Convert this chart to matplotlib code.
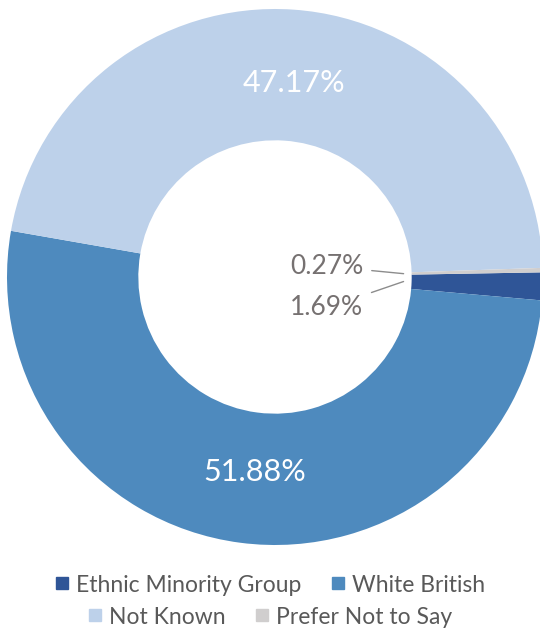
import matplotlib
matplotlib.use("Agg")
import matplotlib.pyplot as plt
from matplotlib.lines import Line2D
import numpy as np

categories = ["Ethnic Minority Group", "White British", "Not Known", "Prefer Not to Say"]
values = [1.69, 51.88, 47.17, 0.27]
labels = ["1.69%", "51.88%", "47.17%", "0.27%"]
colors = ["#2F5597", "#4E8ABE", "#BDD1EA", "#D0CECE"]

plt.rcParams['font.family'] = ['Lato', 'DejaVu Sans']

fig = plt.figure(figsize=(5.4, 6.3), dpi=100)
ax = fig.add_axes([7/540, 85/630, 536/540, 536/630])
ax.axis('off')

wedges, _ = ax.pie(values, colors=colors, startangle=1, counterclock=False,
                   radius=1, wedgeprops=dict(width=0.49, edgecolor='none'))
ax.set_xlim(-1, 1)
ax.set_ylim(-1, 1)
ax.set_aspect('equal')

def mid(w):
    a = np.deg2rad((w.theta1 + w.theta2) / 2)
    return np.cos(a), np.sin(a)

# big labels inside ring
for i in (1, 2):
    c, s = mid(wedges[i])
    ax.text(0.73 * c + 0.02, 0.73 * s - 0.005, labels[i], color='white', fontsize=22,
            ha='center', va='center')

# small labels in hole with leader lines
lab_col = '#767171'
c, s = mid(wedges[3])
ax.annotate(labels[3], xy=(0.48 * c, 0.48 * s), xytext=(0.33, 0.04),
            fontsize=19, color=lab_col, ha='right', va='center',
            arrowprops=dict(arrowstyle='-', color='#8C8C8C', lw=1,
                            shrinkA=4, shrinkB=0))
c, s = mid(wedges[0])
ax.annotate(labels[0], xy=(0.48 * c, 0.48 * s), xytext=(0.33, -0.115),
            fontsize=19, color=lab_col, ha='right', va='center',
            arrowprops=dict(arrowstyle='-', color='#8C8C8C', lw=1,
                            shrinkA=4, shrinkB=0))

def handles(idx):
    return [Line2D([0], [0], marker='s', linestyle='none', markersize=9,
                   markerfacecolor=colors[i], markeredgecolor=colors[i]) for i in idx]

leg_kw = dict(ncol=2, frameon=False, fontsize=16.5, labelcolor='#595959',
              handlelength=0.6, handletextpad=0.3, columnspacing=1.3,
              borderaxespad=0, borderpad=0)
l1 = fig.legend(handles([0, 1]), [categories[0], categories[1]],
                loc='center', bbox_to_anchor=(0.5, 1 - 585/630), **leg_kw)
l2 = fig.legend(handles([2, 3]), [categories[2], categories[3]],
                loc='center', bbox_to_anchor=(0.5, 1 - 617/630), **leg_kw)

fig.savefig("out.png", dpi=100)
